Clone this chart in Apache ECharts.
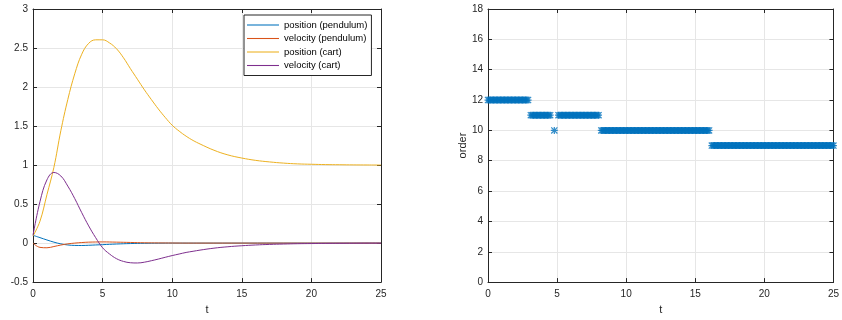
<!DOCTYPE html>
<html>
<head>
<meta charset="utf-8">
<script src="https://cdn.jsdelivr.net/npm/echarts@6/dist/echarts.min.js"></script>
<style>
  html, body { margin: 0; padding: 0; background: #fff; }
  #chart { width: 842px; height: 320px; }
</style>
</head>
<body>
<div id="chart"></div>
<script>
// left plot: states vs t as [t, value]
var posPendulum = [[0, 0.1], [0.5, 0.07], [1, 0.04], [1.5, 0.012], [2, -0.01], [2.5, -0.024], [3, -0.03], [3.5, -0.031], [4, -0.028], [4.5, -0.024], [5, -0.02], [6, -0.012], [7, -0.006], [8, -0.003], [9, -0.001], [10, 0], [25, 0]];
var velPendulum = [[0, 0], [0.5, -0.055], [1, -0.06], [1.5, -0.044], [2, -0.025], [2.5, -0.01], [3, 0], [3.5, 0.007], [4, 0.012], [4.5, 0.014], [5, 0.015], [6, 0.012], [7, 0.008], [8, 0.004], [9, 0.002], [10, 0.001], [11, 0], [25, 0]];
var posCart = [[0, 0.09], [0.5, 0.28], [1, 0.62], [1.5, 0.97], [2, 1.44], [2.5, 1.84], [3, 2.17], [3.5, 2.42], [4, 2.56], [4.5, 2.605], [5, 2.605], [5.5, 2.565], [6, 2.49], [6.5, 2.375], [7, 2.235], [7.5, 2.1], [8, 1.965], [8.5, 1.84], [9, 1.72], [9.5, 1.61], [10, 1.51], [10.5, 1.435], [11, 1.37], [11.5, 1.315], [12, 1.27], [13, 1.19], [14, 1.13], [15, 1.09], [16, 1.06], [17, 1.04], [18, 1.025], [19, 1.015], [20, 1.01], [21, 1.006], [22, 1.004], [23, 1.002], [24, 1.001], [25, 1.0]];
var velCart = [[0, 0.1], [0.5, 0.53], [1, 0.81], [1.5, 0.905], [2, 0.86], [2.5, 0.73], [3, 0.57], [3.5, 0.39], [4, 0.22], [4.5, 0.07], [5, -0.06], [5.5, -0.14], [6, -0.2], [6.5, -0.235], [7, -0.252], [7.5, -0.255], [8, -0.245], [8.5, -0.226], [9, -0.205], [9.5, -0.182], [10, -0.16], [10.5, -0.14], [11, -0.12], [11.5, -0.105], [12, -0.09], [13, -0.065], [14, -0.047], [15, -0.034], [16, -0.024], [17, -0.017], [18, -0.012], [19, -0.008], [20, -0.006], [21, -0.004], [22, -0.003], [23, -0.002], [24, -0.001], [25, -0.001]];
var seriesNames = ['position (pendulum)', 'velocity (pendulum)', 'position (cart)', 'velocity (cart)'];
var seriesColors = ['#0072BD', '#D95319', '#EDB120', '#7E2F8E'];

// right plot: order held over runs of samples [tStart, tEnd, order]
var sampleStep = 0.1;
var orderRuns = [[0, 2.9, 12], [3.1, 4.5, 11], [4.8, 4.8, 10], [5.1, 8.0, 11], [8.2, 16.0, 10], [16.2, 25, 9]];

var orderPoints = [];
orderRuns.forEach(function (r) {
  var n = Math.round((r[1] - r[0]) / sampleStep);
  for (var i = 0; i <= n; i++) {
    orderPoints.push([+(r[0] + i * sampleStep).toFixed(2), r[2]]);
  }
});

var axisColor = '#262626';
var gridColor = '#e6e6e6';
var fontFamily = 'Liberation Sans, Arial, sans-serif';

function mainX(gridIndex) {
  return {
    type: 'value', gridIndex: gridIndex, min: 0, max: 25, interval: 5,
    name: 't', nameLocation: 'middle', nameGap: 18,
    nameTextStyle: { color: axisColor, fontSize: 11, fontFamily: fontFamily },
    axisLine: { onZero: false, lineStyle: { color: axisColor, width: 1 } },
    axisTick: { inside: true, length: 4, lineStyle: { color: axisColor } },
    axisLabel: { color: axisColor, fontSize: 10, fontFamily: fontFamily, margin: 7 },
    splitLine: { show: true, lineStyle: { color: gridColor } }
  };
}
function mirrorX(gridIndex) {
  return {
    type: 'value', gridIndex: gridIndex, min: 0, max: 25, interval: 5, position: 'top',
    axisLine: { onZero: false, lineStyle: { color: axisColor, width: 1 } },
    axisTick: { inside: true, length: 4, lineStyle: { color: axisColor } },
    axisLabel: { show: false }, splitLine: { show: false }
  };
}
function mainY(gridIndex, min, max, interval, name) {
  return {
    type: 'value', gridIndex: gridIndex, min: min, max: max, interval: interval,
    name: name, nameLocation: 'middle', nameGap: 14,
    nameTextStyle: { color: axisColor, fontSize: 11, fontFamily: fontFamily },
    axisLine: { show: true, onZero: false, lineStyle: { color: axisColor, width: 1 } },
    axisTick: { show: true, inside: true, length: 4, lineStyle: { color: axisColor } },
    axisLabel: { color: axisColor, fontSize: 10, fontFamily: fontFamily, margin: 5 },
    splitLine: { show: true, lineStyle: { color: gridColor } }
  };
}
function mirrorY(gridIndex, min, max, interval) {
  return {
    type: 'value', gridIndex: gridIndex, min: min, max: max, interval: interval, position: 'right',
    axisLine: { show: true, onZero: false, lineStyle: { color: axisColor, width: 1 } },
    axisTick: { show: true, inside: true, length: 4, lineStyle: { color: axisColor } },
    axisLabel: { show: false }, splitLine: { show: false }
  };
}

var stateData = [posPendulum, velPendulum, posCart, velCart];
var lineSeries = stateData.map(function (d, i) {
  return {
    name: seriesNames[i], type: 'line', xAxisIndex: 0, yAxisIndex: 0,
    data: d, smooth: 0.4, symbol: 'none', animation: false,
    lineStyle: { color: seriesColors[i], width: 1 },
    itemStyle: { color: seriesColors[i] }
  };
});

var asterisk = 'path://M4.1 0H5.9V10H4.1Z M0 4.1H10V5.9H0Z M1.2 0L10 8.8L8.8 10L0 1.2Z M8.8 0L10 1.2L1.2 10L0 8.8Z';

var chart = echarts.init(document.getElementById('chart'), null, { renderer: 'canvas' });
chart.setOption({
  animation: false,
  backgroundColor: '#fff',
  grid: [
    { left: 33, right: 461, top: 9, bottom: 36 },
    { left: 488, right: 6, top: 9, bottom: 36 }
  ],
  xAxis: [mainX(0), mirrorX(0), mainX(1), mirrorX(1)],
  yAxis: [
    mainY(0, -0.5, 3, 0.5, ''), mirrorY(0, -0.5, 3, 0.5),
    mainY(1, 0, 18, 2, 'order'), mirrorY(1, 0, 18, 2)
  ],
  legend: {
    data: seriesNames, orient: 'vertical', left: 244, top: 15,
    icon: 'path://M0 0H30V1H0Z',
    itemWidth: 32, itemHeight: 1.2, itemGap: 1.5,
    padding: [4, 4, 4, 3],
    backgroundColor: '#fff', borderColor: axisColor, borderWidth: 1, borderRadius: 0,
    textStyle: { color: '#000', fontSize: 9.5, lineHeight: 12, fontFamily: fontFamily }
  },
  series: lineSeries.concat([{
    name: 'order', type: 'scatter', xAxisIndex: 2, yAxisIndex: 2,
    data: orderPoints, symbol: asterisk, symbolSize: 7,
    itemStyle: { color: '#0072BD' }, animation: false
  }])
});
</script>
</body>
</html>
